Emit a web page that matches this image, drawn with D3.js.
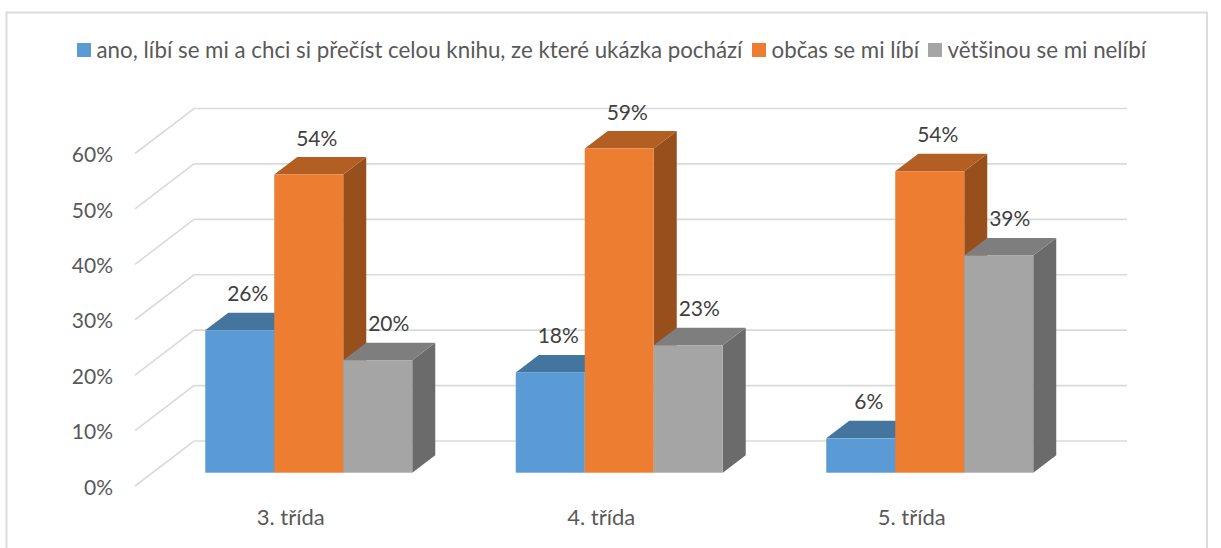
<!DOCTYPE html>
<html>
<head>
<meta charset="utf-8">
<script src="https://cdn.jsdelivr.net/npm/d3@7"></script>
<style>
body { margin: 0; background: #fff; }
text { font-family: Lato, "Open Sans", sans-serif; }
</style>
</head>
<body>
<svg id="myGraph"></svg>
<script>
var width = 1221;
var height = 548;

var categories = ["3. třída", "4. třída", "5. třída"];
var seriesNames = [
    "ano, líbí se mi a chci si přečíst celou knihu, ze které ukázka pochází",
    "občas se mi líbí",
    "většinou se mi nelíbí"
];
// one value per category, in percent
var ano = [25.7, 18.1, 6.2];
var obcas = [53.8, 58.5, 54.4];
var vetsinou = [20.3, 23, 39.2];
var seriesValues = [ano, obcas, vetsinou];
var yTicks = [0, 10, 20, 30, 40, 50, 60];

var frontColors = ["#5b9bd5", "#ed7d31", "#a5a5a5"];
var topColors = ["#44759f", "#b35e22", "#7e7e7e"];
var sideColors = ["#3a648a", "#974f1b", "#6b6b6b"];

var svg = d3.select("#myGraph")
                .attr("width", width)
                .attr("height", height)
                .style("display", "block");

// frame
svg.append("rect")
    .attr("x", 6.5).attr("y", 12.5)
    .attr("width", 1200.5).attr("height", 560)
    .attr("fill", "#fff")
    .attr("stroke", "#dcdcdc")
    .attr("stroke-width", 2);

var x0 = d3.scaleBand().domain(categories).range([135, 1066.5]);
var x1 = d3.scaleBand().domain(d3.range(3)).range([0, 207]);
// the value axis stands on the front edge of the side wall
var y = d3.scaleLinear().domain([0, 60]).range([486, 153.5]);

var wallDx = 59, wallDy = 45;
var barDx = 23, barDy = 17.5;
var barFloor = 472.7;
var barShift = 18.5;

// gridlines: side wall + back wall
svg.append("g").selectAll("path")
    .data(yTicks)
    .enter().append("path")
    .attr("d", function (d) {
        return d3.line()([
            [135, y(d)],
            [135 + wallDx, y(d) - wallDy],
            [1127, y(d) - wallDy]
        ]);
    })
    .attr("fill", "none")
    .attr("stroke", "#dadada")
    .attr("stroke-width", 1.6);

// y axis labels
var yAxis = svg.append("g")
    .attr("transform", "translate(116,1.5)")
    .call(d3.axisLeft(y).tickValues(yTicks).tickSize(0).tickFormat(function (d) { return d + "%"; }));
yAxis.select(".domain").remove();
yAxis.selectAll("text")
    .attr("font-size", 21)
    .attr("fill", "#595959");

// x axis labels
svg.append("g").selectAll("text")
    .data(categories)
    .enter().append("text")
    .attr("x", function (d) { return x0(d) + x0.bandwidth() / 2 + 0.5; })
    .attr("y", 524.5)
    .attr("text-anchor", "middle")
    .attr("font-size", 22)
    .attr("fill", "#595959")
    .text(function (d) { return d; });

function barX(c, s) {
    return x0(c) + x0.bandwidth() / 2 - 103.5 + barShift + x1(s);
}
function barTop(v) {
    return barFloor - (y(0) - y(v));
}

// bars, left to right so each one hides the side of the previous
categories.forEach(function (c, ci) {
    var g = svg.append("g");
    seriesValues.forEach(function (vals, s) {
        var left = barX(c, s);
        var right = left + x1.bandwidth();
        var top = barTop(vals[ci]);
        // side
        g.append("path")
            .attr("d", d3.line()([
                [right, barFloor], [right + barDx, barFloor - barDy],
                [right + barDx, top - barDy], [right, top]
            ]) + "Z")
            .attr("fill", sideColors[s]);
        // top
        g.append("path")
            .attr("d", d3.line()([
                [left, top], [left + barDx, top - barDy],
                [right + barDx, top - barDy], [right, top]
            ]) + "Z")
            .attr("fill", topColors[s]);
        // front
        g.append("rect")
            .attr("x", left)
            .attr("y", top)
            .attr("width", x1.bandwidth())
            .attr("height", barFloor - top)
            .attr("fill", frontColors[s]);
    });
});

// data labels go on top of all bars
categories.forEach(function (c, ci) {
    seriesValues.forEach(function (vals, s) {
        svg.append("text")
            .attr("x", barX(c, s) + x1.bandwidth() / 2 + (s == 2 ? 11 : 8))
            .attr("y", barTop(vals[ci]) - 29)
            .attr("text-anchor", "middle")
            .attr("font-size", 21)
            .attr("fill", "#404040")
            .text(Math.round(vals[ci]) + "%");
    });
});

// legend
var legendX = [77, 752, 928];
var legend = svg.append("g").selectAll("g")
    .data(seriesNames)
    .enter().append("g")
    .attr("transform", function (d, i) { return "translate(" + legendX[i] + ",43)"; });
legend.append("rect")
    .attr("width", 14).attr("height", 14)
    .attr("fill", function (d, i) { return frontColors[i]; });
legend.append("text")
    .attr("x", 19.5)
    .attr("y", 15)
    .attr("font-size", 22.3)
    .attr("fill", "#595959")
    .text(function (d) { return d; });
</script>
</body>
</html>
